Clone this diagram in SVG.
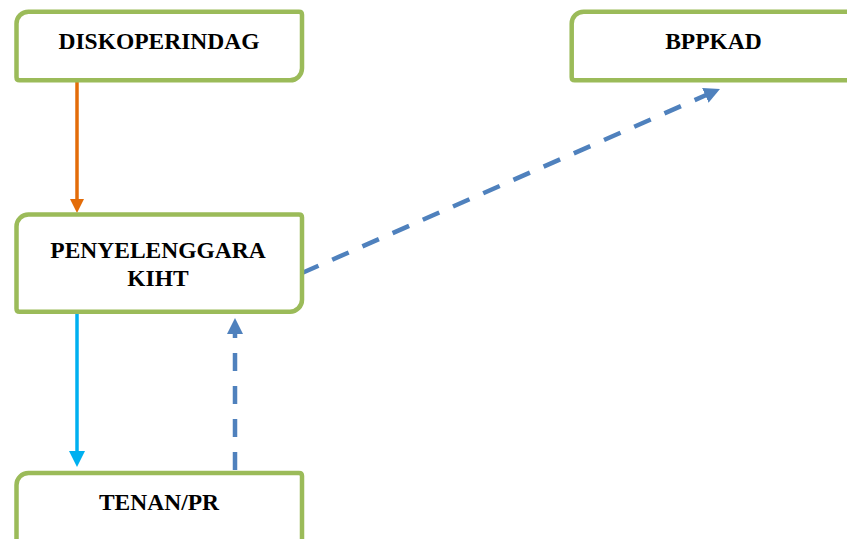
<svg xmlns="http://www.w3.org/2000/svg" width="847" height="539" viewBox="0 0 847 539">
<style>
.box{fill:#fff;stroke:#9BBB59;stroke-width:4.5}
.lbl{font-family:"Liberation Serif","Times New Roman",serif;font-weight:bold;font-size:23.5px;fill:#000;text-anchor:middle}
.c{fill:none;stroke-width:3.5}
.dash{fill:none;stroke:#4F81BD;stroke-width:4.5;stroke-dasharray:18 15}
</style>
<defs>
<marker id="aO" markerUnits="userSpaceOnUse" markerWidth="14" markerHeight="14" refX="4" refY="7" orient="auto"><path d="M0,0 L14,7 L0,14 z" fill="#E36C09"/></marker>
<marker id="aC" markerUnits="userSpaceOnUse" markerWidth="16" markerHeight="16" refX="5" refY="8" orient="auto"><path d="M0,0 L16,8 L0,16 z" fill="#00B0F0"/></marker>
<marker id="aB" markerUnits="userSpaceOnUse" markerWidth="16" markerHeight="16" refX="4" refY="8" orient="auto"><path d="M0,0 L16,8 L0,16 z" fill="#4F81BD"/></marker>
</defs>
<g id="connectors">
<line class="c" stroke="#E36C09" x1="77" y1="82" x2="77" y2="203" marker-end="url(#aO)"/>
<line class="c" stroke="#00B0F0" x1="77" y1="314" x2="77" y2="456" marker-end="url(#aC)"/>
<line class="dash" x1="235" y1="470" x2="235" y2="330" marker-end="url(#aB)"/>
<line class="dash" x1="302" y1="273" x2="709" y2="93.8" marker-end="url(#aB)"/>
</g>
<g id="n-diskoperindag">
<path class="box" d="M28.5 11.7 H299 Q302 11.7 302 14.7 V68.3 A12 12 0 0 1 290 80.3 H19.5 Q16.5 80.3 16.5 77.3 V23.7 A12 12 0 0 1 28.5 11.7 Z"/>
<text class="lbl" x="159" y="49.3">DISKOPERINDAG</text>
</g>
<g id="n-bppkad">
<path class="box" d="M583.7 11.7 H880 V80.3 H574.7 Q571.7 80.3 571.7 77.3 V23.7 A12 12 0 0 1 583.7 11.7 Z"/>
<text class="lbl" x="713.5" y="49">BPPKAD</text>
</g>
<g id="n-penyelenggara">
<path class="box" d="M28.5 214.5 H299 Q302 214.5 302 217.5 V299.7 A12 12 0 0 1 290 311.7 H19.5 Q16.5 311.7 16.5 308.7 V226.5 A12 12 0 0 1 28.5 214.5 Z"/>
<text class="lbl" x="158" y="258.3">PENYELENGGARA</text>
<text class="lbl" x="158" y="286">KIHT</text>
</g>
<g id="n-tenan">
<path class="box" d="M28.5 473 H299 Q302 473 302 476 V560 H16.5 V485 A12 12 0 0 1 28.5 473 Z"/>
<text class="lbl" x="159" y="510">TENAN/PR</text>
</g>
</svg>
